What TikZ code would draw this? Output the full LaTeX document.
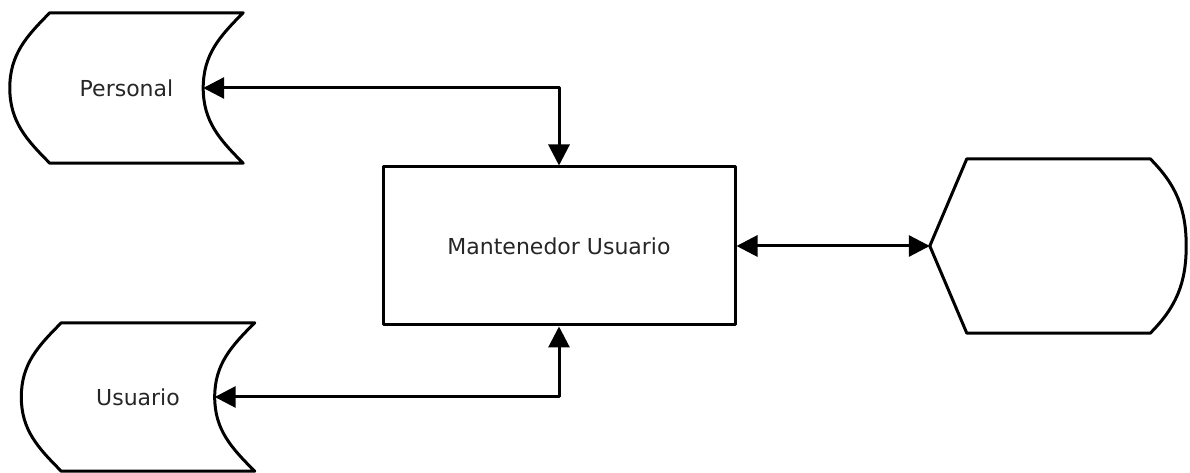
\documentclass[tikz,border=0pt]{standalone}
\usepackage{fontspec}
\setmainfont{DejaVu Sans}
\usepackage{tikz}
\usetikzlibrary{calc,arrows.meta}
\tikzset{almacen/.style={
    rectangle,
    inner sep=0pt,
    minimum width=233pt,
    minimum height=150pt,
    text=black!85,
    font=\fontsize{22}{26}\selectfont}}
\tikzset{proceso/.style={
    rectangle,
    draw=black,
    line width=3pt,
    inner sep=0pt,
    minimum width=352pt,
    minimum height=158pt,
    text=black!85,
    font=\fontsize{22}{26}\selectfont}}
\tikzset{pantalla/.style={
    rectangle,
    inner sep=0pt,
    minimum width=256pt,
    minimum height=174pt}}
\tikzset{flujo/.style={
    line width=3pt,
    {Triangle[length=21pt,width=21pt]}-{Triangle[length=21pt,width=21pt]}}}

\begin{document}
\begin{tikzpicture}[x=1pt,y=1pt,line join=round]
	\useasboundingbox (0,0) rectangle (1190,473);
\coordinate (P) at (126.5,385);
\coordinate (U) at (138,76);
\coordinate (M) at (559,227);
\coordinate (S) at (1058,227);

\node[almacen] (personal) at (P) {Personal};
\node[almacen,minimum height=148pt] (usuario) at (U) {Usuario};
\node[proceso] (mantenedor) at (M) {Mantenedor Usuario};
\node[pantalla] (salida) at (S) {};

% contornos de los almacenes
\foreach \a in {personal,usuario}{
  \draw[line width=3pt] ($(\a.north west)+(40,0)$) -- (\a.north east)
    to[out=225,in=90] ($(\a.east)+(-40,0)$) to[out=-90,in=135] (\a.south east)
    -- ($(\a.south west)+(40,0)$)
    to[out=135,in=-90] (\a.west) to[out=90,in=225] cycle;
}
% pantalla
\draw[line width=3pt] (salida.west) -- ($(salida.north west)+(37,0)$)
  -- ($(salida.north east)+(-36,0)$) to[out=-45,in=90] (salida.east)
  to[out=-90,in=45] ($(salida.south east)+(-36,0)$)
  -- ($(salida.south west)+(37,0)$) -- cycle;

\draw[flujo] ($(personal.east)+(-40,0)$) -| (mantenedor.north);
\draw[flujo] ($(usuario.east)+(-40,0)$) -| (mantenedor.south);
\draw[flujo] (mantenedor.east) -- (salida.west);
\end{tikzpicture}
\end{document}
